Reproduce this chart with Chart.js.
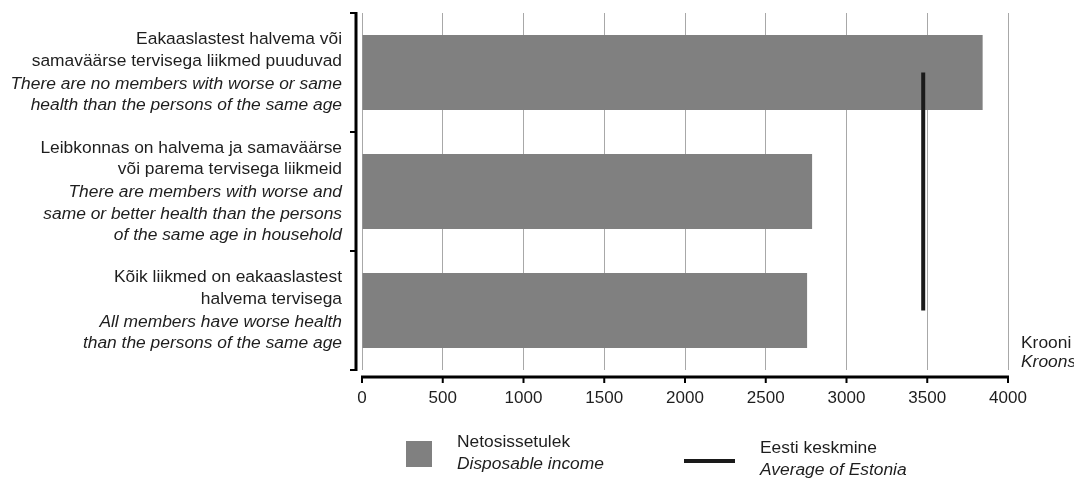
<!DOCTYPE html>
<html>
<head>
<meta charset="utf-8">
<script src="https://cdn.jsdelivr.net/npm/chart.js@4.4.1/dist/chart.umd.min.js"></script>
<style>
  html, body { margin: 0; padding: 0; background: #fff; }
  #wrap { width: 1074px; height: 478px; position: relative; }
</style>
</head>
<body>
<div id="wrap"><canvas id="myChart"></canvas></div>
<script>
// category labels (Estonian + English lines)
const labelsEt = [
    ['Eakaaslastest halvema või', 'samaväärse tervisega liikmed puuduvad'],
    ['Leibkonnas on halvema ja samaväärse', 'või parema tervisega liikmeid'],
    ['Kõik liikmed on eakaaslastest', 'halvema tervisega']
];
const labelsEn = [
    ['There are no members with worse or same', 'health than the persons of the same age'],
    ['There are members with worse and', 'same or better health than the persons', 'of the same age in household'],
    ['All members have worse health', 'than the persons of the same age']
];
const income = [3843, 2787, 2756];
const estoniaAverage = [3475, 3475, 3475];
const xTicks = [0, 500, 1000, 1500, 2000, 2500, 3000, 3500, 4000];
const unitLabel = ['Krooni', 'Kroons'];
const legendIncome = ['Netosissetulek', 'Disposable income'];
const legendAverage = ['Eesti keskmine', 'Average of Estonia'];

const FONT = '"Liberation Sans", Arial, sans-serif';
const TEXT = '#1e1e1e';
const BAR = '#808080';

const decorations = {
    id: 'decorations',
    afterDraw(chart) {
        const { ctx, chartArea: a, scales: { x, y } } = chart;
        ctx.save();
        ctx.fillStyle = TEXT;
        ctx.strokeStyle = '#000';

        // y axis line + boundary ticks
        const band = (a.bottom - a.top) / labelsEt.length;
        const ax = a.left - 6;
        ctx.lineWidth = 3;
        ctx.beginPath();
        ctx.moveTo(ax, a.top - 1);
        ctx.lineTo(ax, a.bottom + 1);
        ctx.stroke();
        ctx.lineWidth = 2;
        for (let i = 0; i <= labelsEt.length; i++) {
            const yy = a.top + i * band;
            ctx.beginPath();
            ctx.moveTo(ax - 6, yy);
            ctx.lineTo(ax, yy);
            ctx.stroke();
        }

        // x axis line + ticks
        const ay = a.bottom + 7;
        ctx.lineWidth = 3;
        ctx.beginPath();
        ctx.moveTo(a.left - 1, ay);
        ctx.lineTo(a.right + 1, ay);
        ctx.stroke();
        ctx.lineWidth = 2;
        xTicks.forEach(v => {
            const px = x.getPixelForValue(v);
            ctx.beginPath();
            ctx.moveTo(px, ay);
            ctx.lineTo(px, ay + 6);
            ctx.stroke();
        });

        // category labels
        const lh = 21.5;
        ctx.textAlign = 'right';
        ctx.textBaseline = 'middle';
        labelsEt.forEach((et, i) => {
            const en = labelsEn[i];
            const n = et.length + en.length;
            const cy = y.getPixelForValue(i);
            let yy = cy - ((n - 1) * lh + 1.5) / 2;
            ctx.font = '17.4px ' + FONT;
            et.forEach(t => { ctx.fillText(t, 342, yy); yy += lh; });
            yy += 1.5;
            ctx.font = 'italic 17.4px ' + FONT;
            en.forEach(t => { ctx.fillText(t, 342, yy); yy += lh; });
        });

        // unit label
        ctx.textAlign = 'left';
        ctx.font = '17.4px ' + FONT;
        ctx.fillText(unitLabel[0], a.right + 13, 343);
        ctx.font = 'italic 17.4px ' + FONT;
        ctx.fillText(unitLabel[1], a.right + 13, 362);

        // legend
        ctx.fillStyle = BAR;
        ctx.fillRect(406, 441, 26, 26);
        ctx.fillStyle = TEXT;
        ctx.font = '17.4px ' + FONT;
        ctx.fillText(legendIncome[0], 457, 442);
        ctx.font = 'italic 17.4px ' + FONT;
        ctx.fillText(legendIncome[1], 457, 464);

        ctx.strokeStyle = '#1a1a1a';
        ctx.lineWidth = 4;
        ctx.beginPath();
        ctx.moveTo(684, 461);
        ctx.lineTo(735, 461);
        ctx.stroke();
        ctx.font = '17.4px ' + FONT;
        ctx.fillText(legendAverage[0], 760, 448);
        ctx.font = 'italic 17.4px ' + FONT;
        ctx.fillText(legendAverage[1], 760, 470);
        ctx.restore();
    }
};

document.addEventListener('DOMContentLoaded', () => {
    const ctx = document.getElementById('myChart').getContext('2d');
    new Chart(ctx, {
        type: 'bar',
        data: {
            labels: labelsEt.map(l => l.join(' ')),
            datasets: [{
                type: 'line',
                label: legendAverage[0],
                data: estoniaAverage,
                borderColor: '#1a1a1a',
                borderWidth: 4,
                borderCapStyle: 'butt',
                pointRadius: 0,
                fill: false,
                order: 0
            }, {
                label: legendIncome[0],
                data: income,
                backgroundColor: BAR,
                categoryPercentage: 1,
                barPercentage: 0.632,
                order: 1
            }]
        },
        options: {
            indexAxis: 'y',
            responsive: true,
            maintainAspectRatio: false,
            animation: false,
            layout: { padding: { left: 362, right: 66, top: 13, bottom: 70 } },
            plugins: {
                legend: { display: false },
                tooltip: { enabled: false }
            },
            scales: {
                x: {
                    type: 'linear',
                    min: 0,
                    max: 4000,
                    afterBuildTicks: s => { s.ticks = xTicks.map(v => ({ value: v })); },
                    afterFit: s => { s.height = 38; },
                    ticks: {
                        color: TEXT,
                        font: { family: FONT, size: 17 },
                        padding: 18,
                        maxRotation: 0,
                        callback: v => String(v)
                    },
                    grid: { color: '#a8a8a8', lineWidth: 1, drawTicks: false },
                    border: { display: false }
                },
                y: {
                    type: 'category',
                    offset: true,
                    afterFit: s => { s.width = 0; },
                    ticks: { display: false },
                    grid: { display: false },
                    border: { display: false }
                }
            }
        },
        plugins: [decorations]
    });
});
</script>
</body>
</html>
